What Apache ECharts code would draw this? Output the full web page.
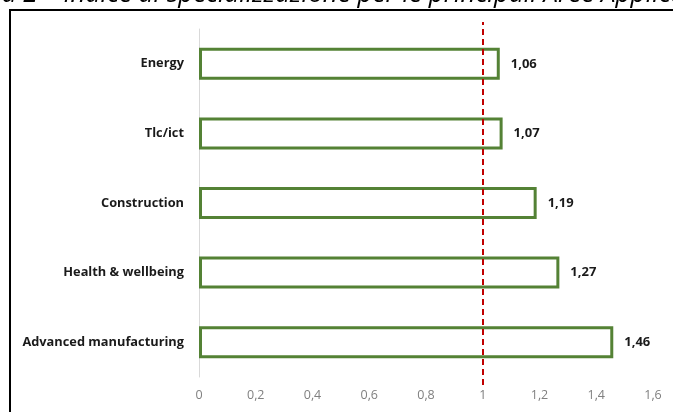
<!DOCTYPE html>
<html>
<head>
<meta charset="utf-8">
<script src="https://cdn.jsdelivr.net/npm/echarts@6/dist/echarts.min.js"></script>
<style>
html,body{margin:0;padding:0;background:#fff;}
#chart{width:673px;height:412px;}
</style>
</head>
<body>
<div id="chart"></div>
<script>
var titleText = 'Figura 2 – Indice di specializzazione per le principali Aree Applicative';
var categories = ['Energy', 'Tlc/ict', 'Construction', 'Health & wellbeing', 'Advanced manufacturing'];
var values = [1.06, 1.07, 1.19, 1.27, 1.46];
var referenceValue = 1;
var axisMin = 0, axisMax = 1.6, axisStep = 0.2;

function fmt(v) { return String(+v.toFixed(2)).replace('.', ','); }

var chart = echarts.init(document.getElementById('chart'), null, {renderer: 'canvas'});
chart.setOption({
  animation: false,
  backgroundColor: '#ffffff',
  textStyle: {fontFamily: 'Open Sans'},
  graphic: [
    {type: 'text', x: -56, y: 8, style: {text: titleText, font: 'italic 26px "Open Sans"', fill: '#000', verticalAlign: 'bottom', align: 'left'}},
    {type: 'polyline', shape: {points: [[10, 430], [10, 10], [700, 10]]}, style: {fill: null, stroke: '#000', lineWidth: 2}}
  ],
  grid: [
    {left: 199, right: 20, top: 29, bottom: 35},
    {left: 199, right: 20, top: 22, bottom: 27}
  ],
  xAxis: [
    {
      type: 'value', gridIndex: 0, min: axisMin, max: axisMax, interval: axisStep,
      axisLine: {show: false}, axisTick: {show: false}, splitLine: {show: false},
      axisLabel: {color: '#808080', fontSize: 12.5, margin: 12, formatter: fmt}
    },
    {
      type: 'value', gridIndex: 1, min: axisMin, max: axisMax, show: false
    }
  ],
  yAxis: [
    {
      type: 'category', gridIndex: 0, data: categories, inverse: true,
      axisLine: {show: true, lineStyle: {color: '#d9d9d9', width: 1}},
      axisTick: {show: false},
      axisLabel: {color: '#1a1a1a', fontWeight: 'bold', fontSize: 12.8, margin: 15}
    },
    {type: 'value', gridIndex: 1, show: false, min: 0, max: 1}
  ],
  series: [
    {
      type: 'bar', xAxisIndex: 0, yAxisIndex: 0, data: values, barWidth: 32,
      itemStyle: {color: '#ffffff', borderColor: '#548235', borderWidth: 3},
      label: {show: true, position: 'right', distance: 11, color: '#1a1a1a', fontWeight: 'bold', fontSize: 13, formatter: function(p){return fmt(p.value);}},
      z: 2
    },
    {
      type: 'line', xAxisIndex: 1, yAxisIndex: 1, data: [], z: 5,
      markLine: {
        silent: true, symbol: 'none', label: {show: false},
        lineStyle: {color: '#c00000', type: [6, 4], width: 2},
        data: [{xAxis: referenceValue}]
      }
    }
  ]
});
</script>
</body>
</html>
